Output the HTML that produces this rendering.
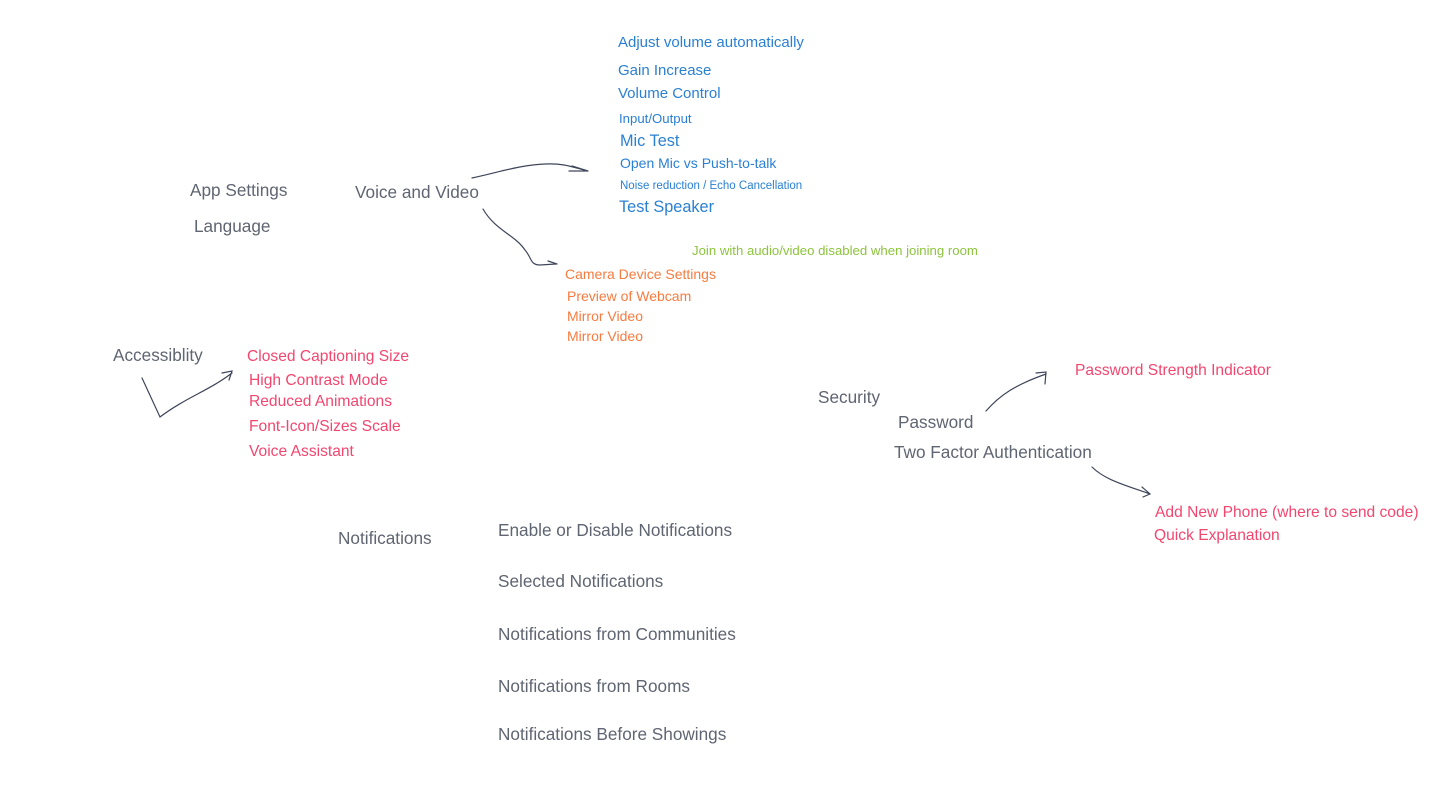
<!DOCTYPE html>
<html><head><meta charset="utf-8"><style>
html,body{margin:0;padding:0;background:#fff;width:1450px;height:803px;overflow:hidden}
body{position:relative;font-family:"Liberation Sans",sans-serif}
.t{position:absolute;white-space:nowrap;line-height:1}
.g{color:#5f6571;font-size:17.2px}
.b{color:#2a80d2;font-size:15px}
.o{color:#f77b3f;font-size:14px}
.p{color:#f2466f;font-size:15.6px}
.gr{color:#8cc43c;font-size:13.2px}
svg{position:absolute;left:0;top:0}
</style></head><body>
<svg width="1450" height="803" fill="none" stroke="#3f4659" stroke-width="1.2" stroke-linecap="round">
<path d="M472 178 C500 172 520 165 545 164 C565 163 575 168 588 171 M572 166 L588 171 M569 171 L588 171"/>
<path d="M483 209 C495 230 515 235 525 250 C532 258 530 265 540 265 L556 264 M548 261 L557 264"/>
<path d="M142 378 L160 417 C185 398 210 390 232 373 M222 373 L232 371 L229 380"/>
<path d="M986 411 C1000 395 1015 385 1046 374 M1036 373 L1046 372 L1045 384"/>
<path d="M1092 467 C1105 480 1125 485 1150 494 M1142 487 L1150 494 L1143 497"/>
</svg>
<div class="t g" style="left:190px;top:182px">App Settings</div>
<div class="t g" style="left:194px;top:218px">Language</div>
<div class="t g" style="left:355px;top:184px">Voice and Video</div>
<div class="t b" style="left:618px;top:35px">Adjust volume automatically</div>
<div class="t b" style="left:618px;top:63px">Gain Increase</div>
<div class="t b" style="left:618px;top:86px">Volume Control</div>
<div class="t b" style="left:619px;top:112px;font-size:13.2px">Input/Output</div>
<div class="t b" style="left:620px;top:133px;font-size:16.3px">Mic Test</div>
<div class="t b" style="left:620px;top:156px;font-size:14px">Open Mic vs Push-to-talk</div>
<div class="t b" style="left:620px;top:181px;font-size:11.5px">Noise reduction / Echo Cancellation</div>
<div class="t b" style="left:619px;top:199px;font-size:16.3px">Test Speaker</div>
<div class="t gr" style="left:692px;top:244px">Join with audio/video disabled when joining room</div>
<div class="t o" style="left:565px;top:267px">Camera Device Settings</div>
<div class="t o" style="left:567px;top:289px">Preview of Webcam</div>
<div class="t o" style="left:567px;top:309px">Mirror Video</div>
<div class="t o" style="left:567px;top:329px">Mirror Video</div>
<div class="t g" style="left:113px;top:347px">Accessiblity</div>
<div class="t p" style="left:247px;top:349px">Closed Captioning Size</div>
<div class="t p" style="left:249px;top:373px">High Contrast Mode</div>
<div class="t p" style="left:249px;top:394px">Reduced Animations</div>
<div class="t p" style="left:249px;top:419px">Font-Icon/Sizes Scale</div>
<div class="t p" style="left:249px;top:444px">Voice Assistant</div>
<div class="t g" style="left:818px;top:389px">Security</div>
<div class="t g" style="left:898px;top:414px">Password</div>
<div class="t g" style="left:894px;top:444px">Two Factor Authentication</div>
<div class="t p" style="left:1075px;top:363px">Password Strength Indicator</div>
<div class="t p" style="left:1155px;top:505px">Add New Phone (where to send code)</div>
<div class="t p" style="left:1154px;top:528px">Quick Explanation</div>
<div class="t g" style="left:338px;top:530px">Notifications</div>
<div class="t g" style="left:498px;top:522px">Enable or Disable Notifications</div>
<div class="t g" style="left:498px;top:573px">Selected Notifications</div>
<div class="t g" style="left:498px;top:626px">Notifications from Communities</div>
<div class="t g" style="left:498px;top:678px">Notifications from Rooms</div>
<div class="t g" style="left:498px;top:726px">Notifications Before Showings</div>
</body></html>
